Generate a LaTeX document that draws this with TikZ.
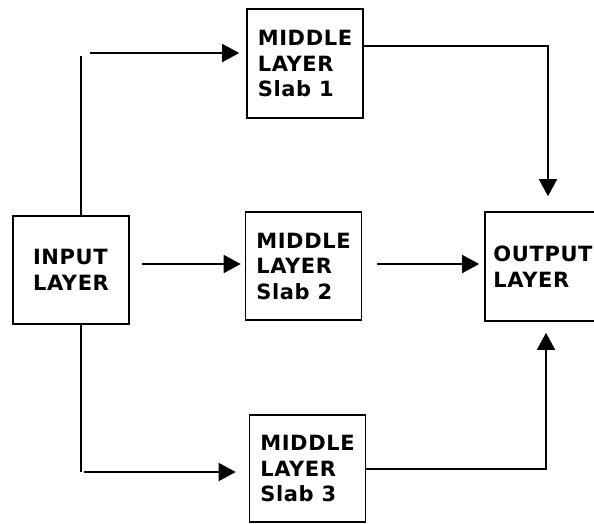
\documentclass[tikz,border=0pt]{standalone}
\usepackage{fontspec}
\setmainfont{DejaVu Sans}[LetterSpace=3]
\usetikzlibrary{arrows.meta,calc}
\begin{document}
\begin{tikzpicture}[x=1pt,y=-1pt,
  layerbox/.style={draw, line width=1.6pt, minimum width=116pt, minimum height=108pt,
    inner sep=0pt, align=left, font=\bfseries\fontsize{21}{25.5}\selectfont},
  link/.style={line width=1.6pt},
  feed/.style={link, -{Triangle[length=17pt,width=18pt]}}]
\useasboundingbox (0,0) rectangle (594,523);

% layers
\node[layerbox, minimum height=109pt] (slab1) at (305,63.5) {MIDDLE\\LAYER\\Slab 1};
\node[layerbox] (input) at (71,270) {INPUT\\LAYER};
\node[layerbox] (slab2) at (303.5,266) {MIDDLE\\LAYER\\Slab 2};
\node[layerbox, minimum height=109pt] (output) at (543,266.5) {OUTPUT\\LAYER};
\node[layerbox, minimum height=107pt] (slab3) at (307.5,468.5) {MIDDLE\\LAYER\\Slab 3};

% upper branch: input -> slab 1 -> output
\coordinate (riseTop) at (81,56);
\draw[link] (riseTop |- input.north) -- (riseTop);
\coordinate (feedA) at (90,53);
\draw[feed, shorten >=7pt] (feedA) -- (feedA -| slab1.west);
\coordinate (bendA) at (548,46);
\draw[feed, shorten >=15pt] (bendA -| slab1.east) -- (bendA) -- (bendA |- output.north);

% middle branch: input -> slab 2 -> output
\coordinate (midRow) at (0,264);
\draw[feed, shorten <=12pt, shorten >=4pt] (midRow -| input.east) -- (midRow -| slab2.west);
\draw[feed, shorten <=15pt, shorten >=5pt] (midRow -| slab2.east) -- (midRow -| output.west);

% lower branch: input -> slab 3 -> output
\coordinate (dropBottom) at (81,472);
\draw[link] (dropBottom |- input.south) -- (dropBottom);
\coordinate (feedC) at (84,472);
\draw[feed, shorten >=13pt] (feedC) -- (feedC -| slab3.west);
\coordinate (bendC) at (546,469);
\draw[feed, shorten >=11pt] (bendC -| slab3.east) -- (bendC) -- (bendC |- output.south);
\end{tikzpicture}
\end{document}
